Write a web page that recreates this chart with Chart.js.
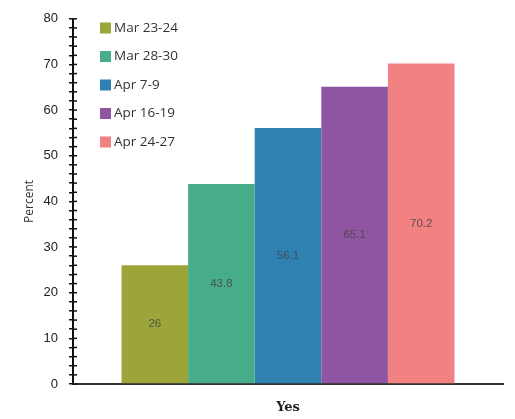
<!DOCTYPE html>
<html lang="en">
<head>
  <meta charset="UTF-8" />
  <title>Percent Yes</title>
  <script src="https://cdn.jsdelivr.net/npm/chart.js"></script>
  <style>
    html, body { margin: 0; padding: 0; background: #fff; }
    .caixa { width: 515px; height: 419px; }
  </style>
</head>
<body>
  <div class="caixa">
    <canvas id="grafico" width="515" height="419"></canvas>
  </div>

  <script>
    // dados
    const categorias = ['Yes'];
    const periodos = ['Mar 23-24', 'Mar 28-30', 'Apr 7-9', 'Apr 16-19', 'Apr 24-27'];
    const valores = [26, 43.8, 56.1, 65.1, 70.2];
    const cores = ['#9ca53a', '#47ad88', '#2e81b0', '#8f55a3', '#f28181'];
    const ticksY = [0, 10, 20, 30, 40, 50, 60, 70, 80];

    // legenda desenhada dentro da área do gráfico
    const legendaInterna = {
      id: 'legendaInterna',
      afterDraw(chart) {
        const ctx = chart.ctx;
        ctx.save();
        ctx.font = '13.5px "Open Sans", sans-serif';
        ctx.textBaseline = 'middle';
        chart.data.datasets.forEach((ds, i) => {
          const y = 27.5 + i * 28.5;
          ctx.fillStyle = ds.backgroundColor;
          ctx.fillRect(100, y - 5, 11, 11);
          ctx.fillStyle = '#333';
          ctx.fillText(ds.label, 114, y + 0.5);
        });
        ctx.restore();
      }
    };

    // valores no meio das barras + marcas do eixo y atravessando a linha
    const extras = {
      id: 'extras',
      afterDatasetsDraw(chart) {
        const ctx = chart.ctx;
        ctx.save();
        ctx.font = '11.5px "Liberation Sans", sans-serif';
        ctx.fillStyle = 'rgba(70,70,70,0.85)';
        ctx.textAlign = 'center';
        ctx.textBaseline = 'middle';
        chart.data.datasets.forEach((ds, i) => {
          const meta = chart.getDatasetMeta(i);
          meta.data.forEach((bar, j) => {
            const p = bar.getProps(['x', 'y', 'base'], true);
            ctx.fillText(String(ds.data[j]), p.x, (p.y + p.base) / 2);
          });
        });

        const y = chart.scales.y;
        ctx.strokeStyle = '#111';
        ctx.lineWidth = 1.5;
        y.ticks.forEach(t => {
          const py = y.getPixelForValue(t.value);
          ctx.beginPath();
          ctx.moveTo(y.right, py);
          ctx.lineTo(y.right + 4, py);
          ctx.stroke();
        });
        ctx.restore();
      }
    };

    const ctx = document.getElementById('grafico').getContext('2d');
    new Chart(ctx, {
      type: 'bar',
      data: {
        labels: categorias,
        datasets: periodos.map((p, i) => ({
          label: p,
          data: [valores[i]],
          backgroundColor: cores[i],
          borderWidth: 0
        }))
      },
      options: {
        responsive: false,
        animation: false,
        layout: { padding: { left: 22, right: 12, top: 10, bottom: 0 } },
        datasets: { bar: { categoryPercentage: 0.7744, barPercentage: 1 } },
        plugins: {
          legend: { display: false },
          tooltip: { enabled: false }
        },
        scales: {
          x: {
            grid: { display: false },
            border: { display: true, color: '#333', width: 2 },
            ticks: {
              color: '#222',
              padding: 8,
              font: { family: '"DejaVu Serif", serif', size: 13, weight: 'bold' }
            },
            afterFit(s) { s.height = 35; }
          },
          y: {
            min: 0,
            max: 80,
            ticks: {
              stepSize: 2,
              autoSkip: false,
              padding: 11,
              color: '#222',
              font: { family: '"Liberation Sans", sans-serif', size: 13 },
              callback: v => ticksY.includes(v) ? String(v) : ''
            },
            grid: {
              drawOnChartArea: false,
              tickLength: 4,
              color: '#111',
              lineWidth: 1.5
            },
            border: { display: true, color: '#111', width: 2 },
            title: {
              display: true,
              text: 'Percent',
              color: '#333',
              font: { family: '"Open Sans", sans-serif', size: 12 },
              padding: { top: 0, bottom: 4 }
            },
            afterFit(s) { s.width = 51; }
          }
        }
      },
      plugins: [legendaInterna, extras]
    });
  </script>
</body>
</html>
